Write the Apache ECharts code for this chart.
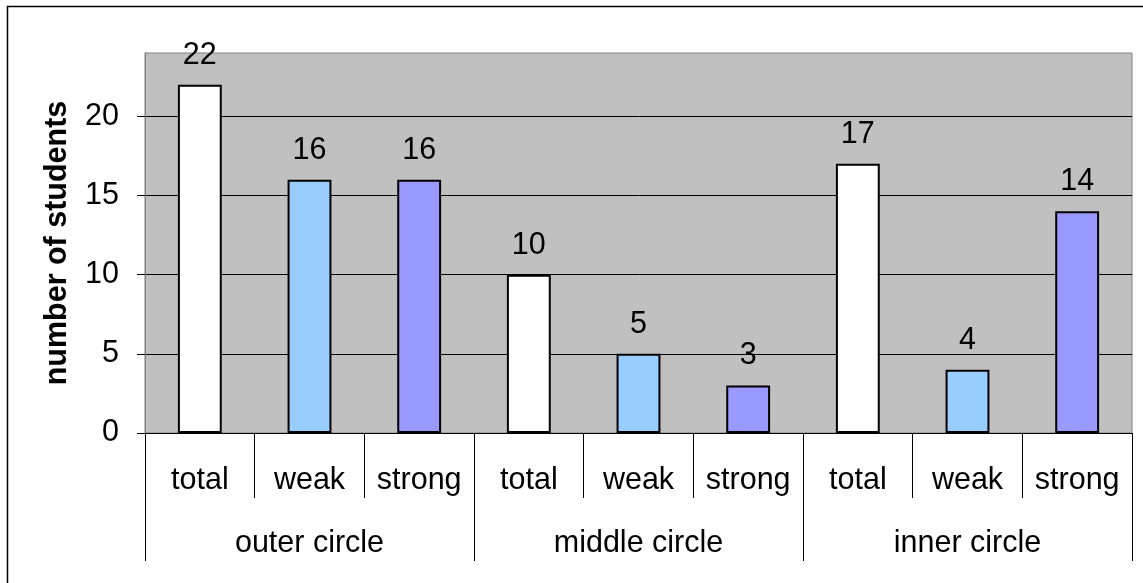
<!DOCTYPE html>
<html>
<head>
<meta charset="utf-8">
<script src="https://cdn.jsdelivr.net/npm/echarts@6/dist/echarts.min.js"></script>
<style>
  html, body { margin: 0; padding: 0; background: #fff; }
  #chart { width: 1143px; height: 583px; }
</style>
</head>
<body>
<div id="chart"></div>
<script>
// groups and sub categories
var groups = ['outer circle', 'middle circle', 'inner circle'];
var subs = ['total', 'weak', 'strong'];
var values = [22, 16, 16, 10, 5, 3, 17, 4, 14];
var subColors = ['#FFFFFF', '#99CCFF', '#9999FF'];
var yTicks = [0, 5, 10, 15, 20];

var categories = [];
groups.forEach(function (g) {
  subs.forEach(function (s) { categories.push(s); });
});

var font = 'Liberation Sans, Arial, sans-serif';
var fs = 30.5;

var chart = echarts.init(document.getElementById('chart'));
chart.setOption({
  animation: false,
  textStyle: { fontFamily: font },
  graphic: [{
    type: 'rect',
    shape: { x: 7.5, y: 6.5, width: 1300, height: 1000 },
    style: { fill: 'none', stroke: '#000', lineWidth: 1.5 },
    silent: true
  }],
  grid: {
    left: 145, right: 11, top: 53, bottom: 150,
    show: true, backgroundColor: '#C0C0C0', borderColor: '#808080', borderWidth: 1
  },
  xAxis: [{
    type: 'category',
    data: categories,
    position: 'bottom',
    boundaryGap: true,
    axisLine: { show: true, lineStyle: { color: '#000', width: 1 } },
    axisTick: { show: true, inside: false, interval: 0, length: 65, lineStyle: { color: '#000', width: 1 } },
    axisLabel: { interval: 0, margin: 32, fontSize: fs, color: '#000', fontFamily: font }
  }, {
    type: 'category',
    data: groups,
    position: 'bottom',
    boundaryGap: true,
    axisLine: { show: false },
    axisTick: { show: true, inside: false, interval: 0, length: 128, lineStyle: { color: '#000', width: 1 } },
    axisLabel: { interval: 0, margin: 95, fontSize: fs, color: '#000', fontFamily: font }
  }],
  yAxis: {
    type: 'value',
    min: 0, max: 24, interval: 5,
    name: 'number of students',
    nameLocation: 'middle',
    nameGap: 72,
    nameTextStyle: { fontSize: fs, fontWeight: 'bold', color: '#000', fontFamily: font },
    axisLine: { show: true, lineStyle: { color: '#808080' } },
    axisTick: { show: true, length: 8, lineStyle: { color: '#000' } },
    axisLabel: {
      margin: 26, fontSize: fs, color: '#000', fontFamily: font, showMaxLabel: false,
      formatter: function (v) { return yTicks.indexOf(v) >= 0 ? String(v) : ''; }
    },
    splitLine: { show: true, showMaxLine: false, lineStyle: { color: '#000', width: 1 } }
  },
  series: [{
    type: 'bar',
    xAxisIndex: 0,
    barWidth: '40%',
    data: values.map(function (v, i) {
      return { value: v, itemStyle: { color: subColors[i % subs.length] } };
    }),
    itemStyle: { borderColor: '#000', borderWidth: 2 },
    label: { show: true, position: 'top', distance: 14, fontSize: fs, color: '#000', fontFamily: font }
  }]
});
</script>
</body>
</html>
